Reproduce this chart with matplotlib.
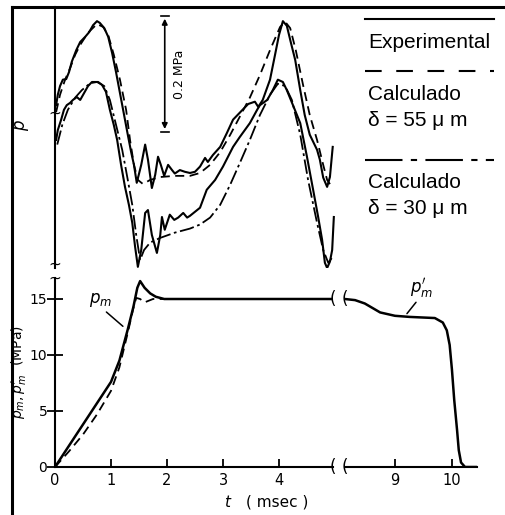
import matplotlib
matplotlib.use("Agg")
import matplotlib.pyplot as plt
from matplotlib.lines import Line2D

# pressure traces (upper panel): t in msec, p in MPa (arbitrary zero)
t_exp_a = [0.02, 0.05, 0.09, 0.14, 0.20, 0.25, 0.30, 0.38, 0.45, 0.54, 0.61, 0.68, 0.75, 0.80,
           0.88, 0.95, 1.02, 1.09, 1.16, 1.23, 1.30, 1.36, 1.41, 1.46, 1.54, 1.61, 1.66, 1.73,
           1.79, 1.84, 1.89, 1.95, 2.02, 2.09, 2.14, 2.23, 2.32, 2.41, 2.50, 2.59, 2.68, 2.73,
           2.82, 2.95, 3.07, 3.18, 3.30, 3.45, 3.57, 3.63, 3.71, 3.84, 3.93, 4.00, 4.07, 4.14,
           4.21, 4.29, 4.38, 4.46, 4.55, 4.68, 4.73, 4.79, 4.86, 4.91, 4.96]
p_exp_a = [0.284, 0.302, 0.317, 0.328, 0.329, 0.341, 0.359, 0.379, 0.393, 0.402, 0.410, 0.422,
           0.429, 0.426, 0.417, 0.402, 0.374, 0.341, 0.305, 0.269, 0.233, 0.203, 0.181, 0.150,
           0.181, 0.216, 0.190, 0.141, 0.164, 0.195, 0.181, 0.162, 0.181, 0.172, 0.166, 0.172,
           0.169, 0.167, 0.169, 0.178, 0.193, 0.186, 0.198, 0.212, 0.236, 0.259, 0.271, 0.286,
           0.290, 0.281, 0.293, 0.328, 0.371, 0.405, 0.429, 0.421, 0.393, 0.362, 0.310, 0.267,
           0.233, 0.207, 0.190, 0.159, 0.143, 0.160, 0.212]

t_c55 = [0.02, 0.09, 0.18, 0.27, 0.36, 0.45, 0.59, 0.75, 0.86, 0.95, 1.05, 1.16, 1.27, 1.34,
         1.41, 1.48, 1.57, 1.70, 1.88, 2.14, 2.41, 2.59, 2.77, 2.95, 3.13, 3.30, 3.48, 3.66,
         3.84, 4.02, 4.11, 4.20, 4.30, 4.43, 4.55, 4.68, 4.79, 4.86, 4.93]
p_c55 = [0.272, 0.302, 0.328, 0.348, 0.371, 0.388, 0.409, 0.424, 0.419, 0.405, 0.371, 0.328,
         0.276, 0.224, 0.181, 0.155, 0.148, 0.155, 0.160, 0.162, 0.162, 0.167, 0.181, 0.203,
         0.233, 0.264, 0.297, 0.336, 0.379, 0.419, 0.428, 0.417, 0.379, 0.319, 0.267, 0.224,
         0.181, 0.155, 0.145]

t_exp_b = [0.02, 0.05, 0.11, 0.16, 0.21, 0.27, 0.32, 0.39, 0.45, 0.52, 0.59, 0.66, 0.77, 0.84,
           0.91, 0.98, 1.05, 1.11, 1.18, 1.25, 1.32, 1.38, 1.43, 1.48, 1.54, 1.61, 1.66, 1.73,
           1.82, 1.88, 1.91, 1.96, 2.05, 2.13, 2.20, 2.29, 2.36, 2.41, 2.50, 2.59, 2.71, 2.86,
           3.00, 3.18, 3.30, 3.48, 3.61, 3.66, 3.79, 3.89, 3.98, 4.07, 4.14, 4.25, 4.38, 4.50,
           4.61, 4.70, 4.77, 4.82, 4.86, 4.91, 4.95, 4.98]
p_exp_b = [0.224, 0.241, 0.259, 0.276, 0.284, 0.288, 0.293, 0.298, 0.293, 0.305, 0.317, 0.324,
           0.324, 0.319, 0.307, 0.276, 0.250, 0.224, 0.181, 0.143, 0.112, 0.081, 0.040, 0.005,
           0.034, 0.098, 0.103, 0.060, 0.029, 0.060, 0.091, 0.069, 0.095, 0.086, 0.090, 0.098,
           0.090, 0.093, 0.100, 0.107, 0.138, 0.155, 0.178, 0.212, 0.229, 0.253, 0.276, 0.284,
           0.293, 0.310, 0.328, 0.324, 0.310, 0.284, 0.253, 0.195, 0.138, 0.091, 0.052, 0.012,
           0.003, 0.014, 0.034, 0.091]

t_c30 = [0.04, 0.13, 0.23, 0.36, 0.48, 0.63, 0.75, 0.88, 0.98, 1.09, 1.20, 1.30, 1.38, 1.45,
         1.52, 1.59, 1.70, 1.88, 2.14, 2.41, 2.59, 2.77, 2.95, 3.13, 3.30, 3.48, 3.66, 3.84,
         3.98, 4.11, 4.23, 4.38, 4.52, 4.68, 4.79, 4.88, 4.95]
p_c30 = [0.216, 0.250, 0.276, 0.297, 0.310, 0.322, 0.324, 0.317, 0.293, 0.250, 0.207, 0.155,
         0.112, 0.060, 0.017, 0.034, 0.047, 0.055, 0.064, 0.071, 0.078, 0.090, 0.112, 0.147,
         0.184, 0.224, 0.267, 0.302, 0.321, 0.317, 0.293, 0.233, 0.155, 0.081, 0.034, 0.012,
         0.021]

# mean pressure (lower panel), MPa
t_pm_exp = [0.0, 0.25, 0.5, 0.75, 1.0, 1.15, 1.3, 1.4, 1.47, 1.52, 1.6, 1.7, 1.8, 1.95, 3.0, 4.96]
pm_exp = [0.0, 1.9, 3.8, 5.7, 7.6, 9.5, 12.3, 14.3, 16.0, 16.6, 16.0, 15.5, 15.2, 15.0, 15.0, 15.0]
t_pm_calc = [0.0, 0.25, 0.5, 0.75, 1.0, 1.15, 1.3, 1.4, 1.45, 1.52, 1.6, 1.75, 2.0, 4.96]
pm_calc = [0.0, 1.4, 2.9, 4.7, 6.8, 8.9, 12.0, 14.2, 15.1, 15.0, 14.7, 15.0, 15.0, 15.0]
t_pm2 = [8.12, 8.30, 8.47, 8.74, 9.00, 9.26, 9.70, 9.84, 9.91, 9.96, 10.00, 10.04, 10.09,
         10.12, 10.16, 10.23, 10.44]
pm2 = [15.0, 14.9, 14.6, 13.8, 13.5, 13.4, 13.3, 12.9, 12.2, 10.9, 8.7, 6.0, 3.3, 1.5, 0.4,
       0.0, 0.0]

W, H = 505, 515
fig = plt.figure(figsize=(W / 100, H / 100), dpi=100)


def px_axes(x0, y0, x1, y1):
    return fig.add_axes([x0 / W, 1 - y1 / H, (x1 - x0) / W, (y1 - y0) / H])


def fx(x):
    return x / W


def fy(y):
    return 1 - y / H


# frame of the figure (left and top)
fig.add_artist(Line2D([fx(12), fx(12)], [fy(7), fy(513)], color="k", lw=2.2))
fig.add_artist(Line2D([fx(12), fx(505)], [fy(7), fy(7)], color="k", lw=2.2))

# ---- upper panel ----
ax_u = px_axes(55, 7, 340, 268)
ax_u.set_xlim(0, 5.09)
ax_u.set_ylim(0.003, 0.4534)
ax_u.plot(t_exp_a, p_exp_a, color="k", lw=1.5)
ax_u.plot(t_c55, p_c55, color="k", lw=1.3, ls=(0, (5, 3)))
ax_u.plot(t_exp_b, p_exp_b, color="k", lw=1.5)
ax_u.plot(t_c30, p_c30, color="k", lw=1.3, ls=(0, (8, 2, 1.5, 2)))
for s in ["top", "right", "bottom"]:
    ax_u.spines[s].set_visible(False)
ax_u.spines["left"].set_linewidth(1.5)
ax_u.set_xticks([])
ax_u.set_yticks([])

# 0.2 MPa scale bar
ax_u.annotate("", xy=(1.96, 0.438), xytext=(1.96, 0.238),
              arrowprops=dict(arrowstyle="<|-|>", color="k", lw=1.2, mutation_scale=8))
ax_u.plot([1.89, 2.03], [0.438, 0.438], color="k", lw=1.2)
ax_u.plot([1.89, 2.03], [0.238, 0.238], color="k", lw=1.2)
ax_u.text(2.22, 0.338, "0.2 MPa", rotation=90, ha="center", va="center", fontsize=9)

fig.text(fx(22), fy(125), "$p$", rotation=90, ha="center", va="center", fontsize=12)

# ---- lower panel, broken time axis ----
ax_l = px_axes(55, 278, 333, 467)
ax_r = px_axes(345, 278, 477, 467)
for a in (ax_l, ax_r):
    a.set_ylim(0, 16.875)
    a.spines["top"].set_visible(False)
    a.spines["right"].set_visible(False)
    a.spines["bottom"].set_linewidth(1.5)
    a.tick_params(axis="x", direction="in", length=6, width=1.3, labelsize=10.5, pad=4)
ax_l.set_xlim(0, 4.964)
ax_r.set_xlim(8.123, 10.44)
ax_r.spines["left"].set_visible(False)
ax_r.set_yticks([])
ax_l.spines["left"].set_linewidth(1.5)
ax_l.set_xticks([0, 1, 2, 3, 4])
ax_l.set_yticks([0, 5, 10, 15])
ax_l.tick_params(axis="y", direction="inout", length=11, width=1.3, labelsize=10, pad=0)
ax_r.set_xticks([9, 10])

ax_l.plot(t_pm_exp, pm_exp, color="k", lw=1.8)
ax_l.plot(t_pm_calc, pm_calc, color="k", lw=1.3, ls=(0, (5, 3)))
ax_r.plot(t_pm2, pm2, color="k", lw=1.8)

ax_l.text(0.82, 14.9, "$p_m$", fontsize=12, ha="center", va="center")
ax_l.annotate("", xy=(1.25, 12.4), xytext=(0.88, 14.0),
              arrowprops=dict(arrowstyle="-", color="k", lw=1.1))
ax_r.text(9.47, 16.0, "$p_m'$", fontsize=12, ha="center", va="center")
ax_r.annotate("", xy=(9.18, 13.5), xytext=(9.40, 14.9),
              arrowprops=dict(arrowstyle="-", color="k", lw=1.1))

fig.text(fx(19), fy(372), "$p_m, p_m'$  (MPa)", rotation=90, ha="center", va="center",
         fontsize=10)
fig.text(fx(228), fy(502), "$t$", ha="center", va="center", fontsize=11)
fig.text(fx(277), fy(502), "( msec )", ha="center", va="center", fontsize=11)

# break marks
for x, y in [(333, 467), (345, 467), (333, 299), (345, 299)]:
    fig.text(fx(x), fy(y), "(", ha="center", va="center", fontsize=12)
fig.text(fx(55), fy(113), "~", ha="center", va="center", fontsize=11)
fig.text(fx(55), fy(271), "~\n~", ha="center", va="center", fontsize=11, linespacing=0.85)

# legend drawn by hand at the right
lx0, lx1, tx = 365, 494, 368
fig.add_artist(Line2D([fx(lx0), fx(lx1)], [fy(19), fy(19)], color="k", lw=1.5))
fig.add_artist(Line2D([fx(lx0), fx(lx1)], [fy(71), fy(71)], color="k", lw=1.5,
                      ls=(0, (8, 7))))
fig.add_artist(Line2D([fx(lx0), fx(lx1)], [fy(160), fy(160)], color="k", lw=1.5,
                      ls=(0, (18, 4, 3, 4))))
leg_font = dict(family="Liberation Sans", fontsize=15, ha="left", va="center")
fig.text(fx(tx), fy(42), "Experimental", **leg_font)
fig.text(fx(tx), fy(95), "Calculado", **leg_font)
fig.text(fx(tx), fy(120), "δ = 55 μ m", **leg_font)
fig.text(fx(tx), fy(183), "Calculado", **leg_font)
fig.text(fx(tx), fy(208), "δ = 30 μ m", **leg_font)

fig.savefig("out.png", dpi=100, facecolor="white")
